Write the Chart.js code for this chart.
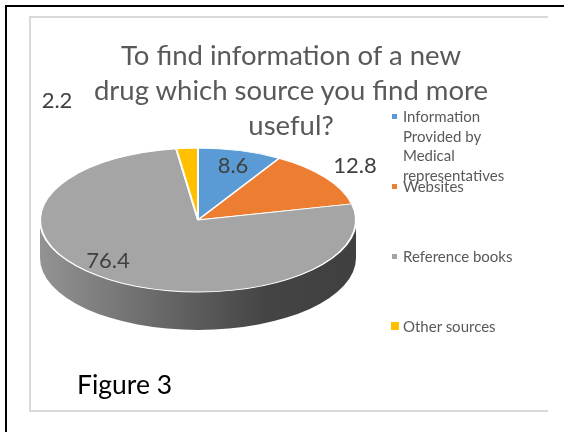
<!DOCTYPE html>
<html>
<head>
<meta charset="utf-8">
<script src="https://cdn.jsdelivr.net/npm/chart.js@4"></script>
<style>
  html, body { margin: 0; padding: 0; background: #fff; }
  #wrap { position: relative; width: 564px; height: 432px; overflow: hidden; font-family: Lato, "Open Sans", sans-serif; }
  #outer { position: absolute; left: 5px; top: 5px; width: 700px; height: 600px; border-left: 2px solid #000; border-top: 2px solid #000; }
  #box { position: absolute; left: 29px; top: 16px; width: 517px; height: 392px; border: 2px solid #d9d9d9; border-right: none; }
  #pie { position: absolute; left: 0; top: 0; }
  #title { position: absolute; left: 91px; width: 400px; top: 37px; text-align: center; font-size: 27.5px; line-height: 35px; color: #595959; white-space: nowrap; }
  .leg { position: absolute; left: 403px; font-size: 15px; line-height: 19.5px; color: #595959; white-space: nowrap; }
  .leg.wrap { width: 104px; white-space: normal; }
  .mark { position: absolute; }
  #fig { position: absolute; left: 77px; top: 367px; font-size: 26.5px; line-height: 35px; color: #000; }
</style>
</head>
<body>
<div id="wrap">
  <div id="outer"></div>
  <div id="box"></div>
  <canvas id="pie" width="564" height="432"></canvas>
  <div id="title"></div>
  <div id="legend"></div>
  <div id="fig">Figure 3</div>
</div>
<script>
const titleLines = ["To find information of a new", "drug which source you find more", "useful?"];
const categories = ["Information Provided by Medical representatives", "Websites", "Reference books", "Other sources"];
const values = [8.6, 12.8, 76.4, 2.2];
const valueLabels = ["8.6", "12.8", "76.4", "2.2"];

const colors = ["#5B9BD5", "#ED7D31", "#A5A5A5", "#FFC000"];
const squash = 72 / 158;   // tilt of the pie
const depth = 38;          // thickness of the side
const labelNudge = [[35, -47], [157, -47], [-90, 48], [-141, -112]];

const title = document.getElementById("title");
titleLines.forEach((l, i) => {
  if (i) title.appendChild(document.createElement("br"));
  title.appendChild(document.createTextNode(l));
});

// legend, Excel left it with odd gaps
const legTops = [107, 177, 247, 317];
const markBox = [[392, 114, 5], [392, 184, 5], [392, 254, 5], [391, 322, 8]];
const legend = document.getElementById("legend");
categories.forEach((c, i) => {
  const m = document.createElement("div");
  m.className = "mark";
  m.style.left = markBox[i][0] + "px";
  m.style.top = markBox[i][1] + "px";
  m.style.width = m.style.height = markBox[i][2] + "px";
  m.style.background = colors[i];
  legend.appendChild(m);
  const t = document.createElement("div");
  t.className = i == 0 ? "leg wrap" : "leg";
  t.style.top = legTops[i] + "px";
  t.textContent = c;
  legend.appendChild(t);
});

function shade(hex, f) {
  const n = parseInt(hex.slice(1), 16);
  const r = Math.round(((n >> 16) & 255) * f);
  const g = Math.round(((n >> 8) & 255) * f);
  const b = Math.round((n & 255) * f);
  return `rgb(${r},${g},${b})`;
}

const pie3d = {
  id: "pie3d",
  beforeDatasetsDraw(chart) {
    const ctx = chart.ctx;
    const arcs = chart.getDatasetMeta(0).data;
    const { x, y, outerRadius } = arcs[0];
    const ry = outerRadius * squash;
    ctx.save();
    arcs.forEach((arc, i) => {
      const a0 = Math.max(arc.startAngle, 0);
      const a1 = Math.min(arc.endAngle, Math.PI);
      if (a1 <= a0) return;
      const grad = ctx.createLinearGradient(x - outerRadius, 0, x + outerRadius, 0);
      grad.addColorStop(0, shade(colors[i], 0.89));
      grad.addColorStop(0.5, shade(colors[i], 0.55));
      grad.addColorStop(0.72, shade(colors[i], 0.41));
      grad.addColorStop(1, shade(colors[i], 0.39));
      ctx.beginPath();
      ctx.ellipse(x, y, outerRadius, ry, 0, a0, a1);
      ctx.lineTo(x + outerRadius * Math.cos(a1), y + ry * Math.sin(a1) + depth);
      ctx.ellipse(x, y + depth, outerRadius, ry, 0, a1, a0, true);
      ctx.closePath();
      ctx.fillStyle = grad;
      ctx.fill();
    });
    ctx.restore();
    ctx.save();
    ctx.translate(x, y);
    ctx.scale(1, squash);
    ctx.translate(-x, -y);
  },
  afterDatasetsDraw(chart) {
    chart.ctx.restore();
  },
  afterDraw(chart) {
    const ctx = chart.ctx;
    const { x, y } = chart.getDatasetMeta(0).data[0];
    ctx.save();
    ctx.font = "22px Lato";
    ctx.fillStyle = "#404040";
    ctx.textAlign = "center";
    ctx.textBaseline = "alphabetic";
    valueLabels.forEach((t, i) => {
      ctx.fillText(t, x + labelNudge[i][0], y + labelNudge[i][1]);
    });
    ctx.restore();
  }
};

function draw() {
  new Chart(document.getElementById("pie"), {
    type: "pie",
    data: {
      labels: categories,
      datasets: [{
        data: values,
        backgroundColor: colors,
        borderColor: "#fff",
        borderWidth: 2,
        hoverOffset: 0,
        offset: 0
      }]
    },
    options: {
      responsive: false,
      animation: false,
      events: [],
      layout: { padding: { left: 39, right: 207, top: 61, bottom: 53 } },
      plugins: {
        legend: { display: false },
        tooltip: { enabled: false },
        title: { display: false }
      }
    },
    plugins: [pie3d]
  });
}

document.fonts.load("22px Lato").then(draw, draw);
</script>
</body>
</html>
